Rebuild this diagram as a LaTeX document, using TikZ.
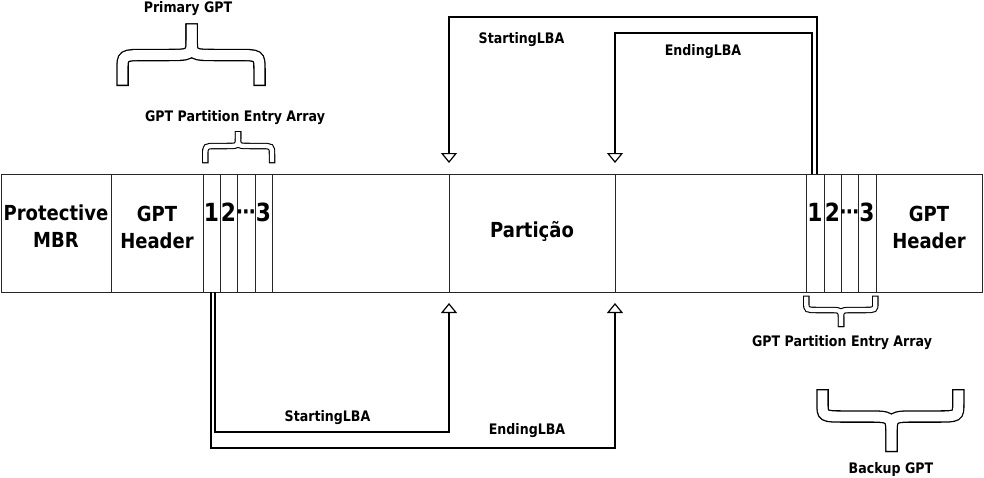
\documentclass[tikz,border=0pt]{standalone}
\usepackage{fontspec}
\newfontfamily\djv{DejaVu Sans Bold}[FakeStretch=0.87]
\usetikzlibrary{arrows.meta}
\tikzset{
  cell/.style={draw=black!85, line width=1pt, rectangle, minimum height=118pt,
    inner sep=0pt, outer sep=0pt, anchor=north west},
  celltxt/.style={font=\djv\fontsize{20.7}{27}\selectfont, align=center, inner sep=0pt},
  digit/.style={font=\djv\fontsize{25}{25}\selectfont, inner sep=0pt, anchor=base},
  lbl/.style={font=\djv\fontsize{14.5}{17}\selectfont, inner sep=0pt, anchor=base},
  link/.style={line width=1.4pt, -{Triangle[open, length=10pt, width=16pt, line width=1.2pt]}},
}
% #1 x1, #2 xm, #3 x2, #4 yend, #5 yband, #6 ytip, #7 width, #8 outline
\newcommand\gbrace[8]{%
  \draw[line width=#7pt] (#1,#4) -- (#1,{#5+0.5*(#4-#5)}) .. controls (#1,#5) and (#1,#5) .. ({#1+0.33*(#2-#1)},#5) -- ({#1+0.62*(#2-#1)},#5) .. controls (#2,#5) and (#2,#5) .. (#2,{#5+0.5*(#6-#5)}) -- (#2,#6);
  \draw[line width=#7pt] (#2,#6) -- (#2,{#5+0.5*(#6-#5)}) .. controls (#2,#5) and (#2,#5) .. ({#2+0.38*(#3-#2)},#5) -- ({#2+0.67*(#3-#2)},#5) .. controls (#3,#5) and (#3,#5) .. (#3,{#5+0.5*(#4-#5)}) -- (#3,#4);
  \draw[white, line width=#7pt-2*#8pt, shorten <=#8pt, shorten >=#8pt] (#1,#4) -- (#1,{#5+0.5*(#4-#5)}) .. controls (#1,#5) and (#1,#5) .. ({#1+0.33*(#2-#1)},#5) -- ({#1+0.62*(#2-#1)},#5) .. controls (#2,#5) and (#2,#5) .. (#2,{#5+0.5*(#6-#5)}) -- (#2,#6);
  \draw[white, line width=#7pt-2*#8pt, shorten <=#8pt, shorten >=#8pt] (#2,#6) -- (#2,{#5+0.5*(#6-#5)}) .. controls (#2,#5) and (#2,#5) .. ({#2+0.38*(#3-#2)},#5) -- ({#2+0.67*(#3-#2)},#5) .. controls (#3,#5) and (#3,#5) .. (#3,{#5+0.5*(#4-#5)}) -- (#3,#4);
}
\begin{document}
\begin{tikzpicture}[x=1pt, y=-1pt]
\useasboundingbox (0,0) rectangle (984,477);
% strip cells
\node[cell, minimum width=110pt] (mbr)  at (1,174) {};
\node[cell, minimum width=92pt]  (hdr)  at (111,174) {};
\node[cell, minimum width=17pt]  (e1)   at (203,174) {};
\node[cell, minimum width=17pt]  (e2)   at (220,174) {};
\node[cell, minimum width=18pt]  (e3)   at (237,174) {};
\node[cell, minimum width=17pt]  (e4)   at (255,174) {};
\node[cell, minimum width=177pt] (gapa) at (272,174) {};
\node[cell, minimum width=166pt] (part) at (449,174) {};
\node[cell, minimum width=191pt] (gapb) at (615,174) {};
\node[cell, minimum width=18pt]  (f1)   at (806,174) {};
\node[cell, minimum width=17pt]  (f2)   at (824,174) {};
\node[cell, minimum width=17pt]  (f3)   at (841,174) {};
\node[cell, minimum width=18pt]  (f4)   at (858,174) {};
\node[cell, minimum width=106pt] (hdrb) at (876,174) {};
% cell texts
\node[celltxt] (tmbr) at (56,225.7) {Protective\\MBR};
\node[celltxt] (thdr) at (157,227.5) {GPT\\Header};
\node[celltxt, anchor=base] (tpart) at (532,237) {Partição};
\node[celltxt] (thdrb) at (929,227.5) {GPT\\Header};
\node[digit] (d1) at (211.5,221.7) {1};
\node[digit] (d2) at (228.5,221.7) {2};
\node[digit, font=\djv\fontsize{22}{22}\selectfont] (d3) at (246,219) {⋯};
\node[digit] (d4) at (263.5,221.7) {3};
\node[digit] (g1) at (815,221.7) {1};
\node[digit] (g2) at (832.5,221.7) {2};
\node[digit, font=\djv\fontsize{22}{22}\selectfont] (g3) at (849.5,219) {⋯};
\node[digit] (g4) at (867,221.7) {3};
% connectors
\draw[link] ([xshift=2pt]f1.north) |- ([yshift=157pt]part.north west) -- ([yshift=11pt]part.north west);
\draw[link] ([xshift=-3pt]f1.north) |- ([yshift=141pt]part.north east) -- ([yshift=11pt]part.north east);
\draw[link] ([xshift=3.5pt]e1.south) |- ([yshift=-140pt]part.south west) -- ([yshift=-11pt]part.south west);
\draw[link] ([xshift=-0.5pt]e1.south) |- ([yshift=-156pt]part.south east) -- ([yshift=-11pt]part.south east);
% labels
\node[lbl] (lprim) at (188,12.7) {Primary GPT};
\node[lbl] (lpea)  at (235,121.5) {GPT Partition Entry Array};
\node[lbl] (lst)   at (521.5,43.5) {StartingLBA};
\node[lbl] (let)   at (703,55) {EndingLBA};
\node[lbl] (lsb)   at (327.5,421.7) {StartingLBA};
\node[lbl] (leb)   at (527,434) {EndingLBA};
\node[lbl] (lpeb)  at (842,346.5) {GPT Partition Entry Array};
\node[lbl] (lbk)   at (891,473) {Backup GPT};
% braces
\gbrace{122.5}{191.7}{259.5}{86}{55}{23.3}{12.5}{1.3}
\gbrace{205.3}{238}{272}{163.3}{146}{131}{6.5}{1.1}
\gbrace{806.3}{841}{875.3}{295.5}{310}{327}{6.5}{1.1}
\gbrace{822.5}{891.5}{958.3}{389}{416.5}{452}{12.5}{1.3}
\end{tikzpicture}
\end{document}
